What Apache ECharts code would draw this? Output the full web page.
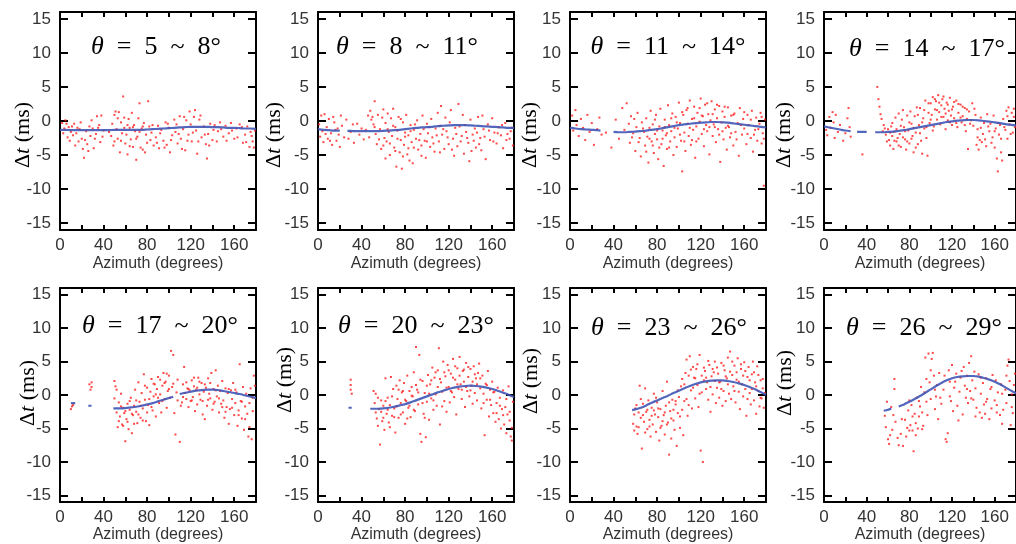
<!DOCTYPE html>
<html>
<head>
<meta charset="utf-8">
<script src="https://cdn.jsdelivr.net/npm/echarts@6/dist/echarts.min.js"></script>
<style>
html,body{margin:0;padding:0;background:#fff;}
#chart{width:1016px;height:544px;}
</style>
</head>
<body>
<div id="chart"></div>
<script>
// ---------------- DATA ----------------
const thetaLo = [5, 8, 11, 14, 17, 20, 23, 26];
const thetaHi = [8, 11, 14, 17, 20, 23, 26, 29];
const xTickLabels = [0, 40, 80, 120, 160];
const yTickLabels = [-15, -10, -5, 0, 5, 10, 15];
const xLabelName = 'Azimuth (degrees)';

const red1 = [[2,-0.3],[4,-1.1],[5,0.1],[7,-2.4],[8,-0.9],[10,-1.6],[12,-2.1],[13,-0.4],[15,-1.8],[17,-3.0],[18,-1.2],[20,-2.6],[21,-4.1],[22,-5.4],[24,-1.5],[25,-3.4],[27,-0.8],[28,-2.2],[30,-1.1],[31,-4.0],[33,-1.9],[34,0.7],[36,-0.6],[37,-3.1],[38,0.8],[40,-1.4],[45,-1.6],[48,-0.4],[49,-3.6],[50,0.9],[51,1.4],[52,-1.2],[53,-2.6],[54,1.3],[55,-4.6],[56,-0.2],[57,-1.8],[58,3.6],[59,0.5],[60,-3.3],[61,-2.0],[62,-4.9],[63,0.3],[64,-1.0],[65,-2.7],[66,1.2],[67,-3.8],[68,-0.6],[69,-1.5],[70,-5.7],[71,-2.3],[72,0.4],[73,2.6],[74,-3.9],[75,-1.1],[76,-4.2],[77,-0.3],[79,-2.0],[80,-3.2],[81,2.9],[82,-0.8],[84,-1.7],[86,-3.6],[88,-2.4],[90,-0.7],[91,-4.0],[93,-1.3],[95,-2.9],[97,-0.2],[98,-3.5],[100,-1.0],[101,-4.6],[103,-2.1],[105,0.2],[106,-1.6],[108,-3.3],[110,0.7],[111,-2.6],[113,-1.2],[115,-4.3],[116,0.1],[118,-2.0],[119,1.4],[120,-0.5],[121,-3.0],[123,0.6],[124,1.6],[125,-1.4],[126,-4.8],[128,0.2],[130,-2.4],[132,-0.8],[134,-3.4],[135,-5.5],[136,-1.9],[138,-0.4],[140,-2.8],[142,-0.6],[145,-1.5],[147,-0.2],[150,-2.3],[152,-0.7],[155,-1.8],[157,-0.3],[160,-2.6],[162,-1.1],[165,-0.5],[168,-3.2],[170,-2.0],[172,-0.8],[174,-3.8],[176,-2.2],[178,-3.9],[179,-1.4]];
const red1b = [[3,-1.8],[6,-0.4],[9,-2.9],[11,-0.8],[14,-3.6],[16,-1.0],[19,-0.2],[23,-2.8],[26,-4.4],[29,0.1],[32,-2.6],[35,-1.0],[39,-2.3],[47,-2.2],[50,-3.0],[53,0.4],[56,-2.9],[59,-1.0],[62,-0.6],[64,-3.7],[67,-0.9],[70,-2.6],[73,-1.6],[76,-0.8],[78,-4.6],[83,-2.8],[85,-0.6],[89,-3.2],[92,-1.8],[96,-3.9],[99,-0.4],[102,-2.8],[107,-0.5],[109,-1.9],[112,-4.1],[114,0.6],[117,-2.9],[122,-1.7],[127,-3.0],[129,0.8],[133,-2.0],[137,-3.6],[141,-1.3],[144,-3.0],[148,-1.2],[153,-2.9],[158,-1.4],[163,-2.4],[167,-0.9],[171,-3.1],[175,-1.6],[177,-3.0]];

const red2 = [[1,-0.5],[2,-2.3],[3,0.8],[4,-1.5],[5,-3.1],[6,1.0],[8,-0.9],[9,-2.6],[10,0.3],[12,-1.8],[13,-3.5],[15,-0.2],[17,-2.9],[18,-1.1],[20,-3.8],[22,-0.7],[24,-2.4],[26,0.2],[30,-1.6],[33,-3.2],[36,-0.4],[38,-2.0],[42,-2.7],[44,-1.3],[46,0.8],[48,1.5],[50,0.6],[51,-0.5],[52,2.9],[53,-1.9],[54,-3.4],[55,0.9],[57,-1.2],[58,-4.1],[60,1.7],[61,-2.5],[62,-0.3],[63,-3.0],[64,1.1],[65,-1.6],[66,-5.0],[67,0.4],[68,-2.2],[69,1.8],[70,-3.9],[71,-0.9],[72,-6.7],[73,-1.4],[74,0.6],[75,-4.6],[76,-2.8],[77,-7.0],[78,-0.2],[79,-3.5],[80,-1.7],[81,0.9],[82,-4.9],[83,-2.1],[84,-5.8],[85,-0.6],[86,-3.1],[87,-6.2],[88,-1.3],[90,-2.6],[91,0.1],[92,-4.2],[94,-1.9],[95,-3.6],[96,0.8],[98,-2.9],[99,-5.4],[100,-0.4],[101,-1.8],[103,-3.8],[104,0.3],[105,-2.4],[107,-4.5],[108,-1.1],[110,1.2],[111,-3.0],[112,-0.7],[113,2.2],[114,-2.0],[116,-4.1],[117,0.5],[118,-1.5],[120,-3.4],[121,-0.2],[122,1.6],[124,-2.6],[125,-5.1],[126,-1.0],[128,-3.7],[129,2.5],[130,-0.8],[132,-2.2],[133,0.9],[134,-4.8],[136,-1.6],[138,-3.2],[139,-5.9],[140,0.2],[142,-2.0],[144,-1.1],[145,-3.9],[147,0.6],[149,-2.5],[150,-4.3],[152,-1.2],[154,-5.6],[156,-0.5],[158,-2.8],[160,0.4],[162,-1.7],[164,-3.3],[166,-0.9],[168,-2.1],[170,-4.0],[172,-0.3],[174,-1.9],[176,-2.6],[178,-1.0],[179,-3.6]];
const red2b = [[7,-1.9],[11,-2.9],[14,0.6],[16,-1.3],[19,-2.0],[21,0.8],[28,-2.6],[32,-0.5],[40,-1.1],[47,-2.4],[49,0.2],[52,-0.9],[56,-2.7],[59,0.5],[60,-3.6],[62,-5.5],[64,-1.2],[66,-3.3],[69,-0.7],[71,-4.4],[73,-2.6],[76,0.3],[78,-5.2],[80,-2.3],[83,-4.0],[85,-1.5],[88,-3.9],[89,-0.5],[93,-2.8],[95,-5.1],[97,-1.2],[100,-3.0],[102,-0.9],[106,-3.3],[109,-2.1],[112,-4.6],[115,-1.2],[119,-2.4],[123,-4.2],[127,-1.9],[131,-3.0],[135,-0.6],[137,-2.5],[141,-4.4],[143,-2.9],[146,-1.7],[148,-3.4],[151,0.8],[153,-2.3],[157,-1.4],[161,-3.0],[165,-1.8],[169,-0.6],[173,-2.8],[177,-1.5]];

const red3 = [[2,0.8],[3,-1.4],[5,1.6],[6,-0.6],[8,-2.2],[10,0.3],[12,-1.0],[14,-2.8],[16,0.9],[18,-1.6],[20,-0.3],[22,-3.5],[25,-1.2],[27,0.5],[29,-2.0],[33,-1.7],[38,-3.9],[42,0.2],[45,-2.6],[48,1.9],[50,-1.3],[52,2.6],[54,-0.4],[55,-3.2],[56,0.7],[58,-1.8],[60,-4.4],[61,-0.9],[62,1.2],[64,-2.5],[65,-5.2],[66,-0.2],[68,-1.6],[69,-3.6],[70,0.4],[71,-2.3],[72,-6.1],[73,-1.0],[74,1.5],[75,-3.0],[76,-0.5],[77,-4.7],[78,-1.9],[79,0.9],[80,-2.7],[81,-5.6],[82,-0.8],[83,1.8],[84,-3.4],[85,-1.4],[86,-6.6],[87,0.2],[88,-2.1],[89,-4.1],[90,2.3],[91,-0.6],[92,-3.0],[93,-1.5],[94,1.1],[95,-5.0],[96,-2.4],[97,0.6],[98,-3.8],[99,-1.1],[100,2.7],[101,-0.3],[102,-2.9],[103,-7.4],[104,0.9],[105,-1.7],[106,-4.4],[107,1.6],[108,-0.4],[109,-2.2],[110,3.0],[111,-3.5],[112,0.3],[113,-1.3],[114,2.1],[115,-5.4],[116,-0.8],[117,1.2],[118,-2.6],[119,-0.1],[120,3.3],[121,-1.9],[122,0.7],[123,-3.7],[124,2.4],[125,-0.6],[126,-1.5],[127,1.0],[128,-4.9],[129,0.1],[130,2.9],[131,-2.2],[132,-0.5],[133,1.7],[134,-3.1],[135,0.4],[136,-1.2],[137,2.2],[138,-6.0],[139,-0.2],[140,1.4],[141,-2.7],[142,0.6],[143,-1.0],[144,-4.2],[145,2.0],[146,-0.9],[147,-2.4],[148,0.8],[150,-3.6],[151,1.1],[152,-1.6],[154,-0.3],[155,-5.1],[156,1.9],[158,-2.0],[159,0.3],[160,-1.1],[162,-3.4],[163,0.9],[164,-0.6],[166,-2.5],[167,1.5],[168,-4.5],[170,-1.3],[171,0.5],[172,-2.9],[174,-0.4],[175,1.2],[176,-3.3],[177,-1.8],[178,-9.5],[179,0.2]];
const red3b = [[57,-2.4],[59,0.3],[63,-3.1],[67,-1.1],[70,-4.5],[73,-2.6],[76,-3.6],[78,0.2],[80,-1.4],[82,-3.9],[85,-2.6],[87,-0.9],[89,-1.8],[91,-3.9],[93,0.4],[96,-1.0],[98,-0.2],[101,-2.0],[103,1.3],[105,-3.0],[108,1.9],[110,-1.0],[112,-2.8],[114,0.4],[116,-3.0],[119,1.9],[121,0.8],[123,-1.2],[126,2.6],[128,-0.9],[131,1.0],[133,-0.9],[135,2.4],[137,-2.0],[140,-1.5],[142,2.1],[145,-0.7],[148,-1.8],[150,0.9],[153,-2.7],[157,-0.6],[160,1.3],[163,-1.9],[166,0.2],[169,-2.0],[173,-1.2],[176,0.6],[178,-2.6]];

const red4 = [[2,-1.3],[3,-2.1],[5,0.6],[6,-1.0],[8,1.3],[9,-0.2],[10,-2.5],[11,0.9],[13,-1.6],[15,-0.6],[18,-2.9],[20,-1.8],[22,0.4],[23,1.9],[24,-0.9],[25,-2.3],[36,-4.9],[50,5.0],[51,3.2],[52,2.1],[53,1.0],[54,0.3],[55,-1.5],[56,-0.6],[58,-2.0],[60,-1.2],[61,-2.8],[62,-3.6],[63,-0.8],[64,-2.2],[65,-4.1],[66,-1.6],[67,0.5],[68,-3.0],[69,-2.5],[70,1.1],[71,-1.9],[72,-3.8],[73,0.2],[74,1.6],[75,-0.9],[76,-2.7],[77,-4.2],[78,0.8],[79,-1.4],[80,-3.3],[81,1.4],[82,-0.4],[83,-2.2],[84,-4.6],[85,0.7],[86,-1.7],[87,2.0],[88,-3.4],[89,-0.6],[90,1.9],[91,-2.9],[92,-4.8],[93,0.4],[94,-1.1],[95,3.0],[96,-2.5],[97,-5.1],[98,1.2],[99,-0.3],[100,2.6],[101,0.9],[102,3.5],[103,-0.8],[104,1.7],[105,2.9],[106,0.2],[107,3.8],[108,1.3],[109,-0.5],[110,2.3],[111,3.2],[112,0.6],[113,1.8],[114,-1.2],[115,2.7],[116,0.1],[117,1.5],[118,3.4],[119,0.8],[120,-0.6],[121,2.1],[122,0.4],[124,3.0],[125,-0.9],[126,1.2],[128,2.4],[129,-0.2],[130,0.7],[132,1.9],[133,-1.5],[134,0.3],[135,-4.1],[136,1.4],[138,0.1],[139,2.6],[140,-0.7],[142,0.9],[143,-3.5],[144,-1.2],[145,-4.2],[146,-2.8],[147,0.5],[148,-3.1],[149,-1.9],[150,-0.3],[152,-3.7],[153,1.0],[155,-1.5],[156,-0.4],[158,-2.4],[159,0.8],[160,-3.9],[161,-1.1],[162,-5.5],[163,-7.4],[164,-2.0],[165,-0.6],[166,-4.6],[167,-5.8],[168,0.3],[170,-1.3],[171,1.5],[172,-2.6],[173,2.0],[174,-0.5],[176,1.2],[177,-1.7],[178,0.6],[179,-0.9]];
const red4b = [[57,-1.1],[59,-3.0],[62,-1.7],[64,-0.3],[66,-2.9],[68,-1.2],[70,-3.6],[72,-0.7],[74,-2.4],[76,-1.5],[78,-3.0],[80,-0.2],[82,-2.6],[84,-1.0],[86,-3.9],[88,0.9],[90,-1.8],[92,-0.2],[94,1.6],[96,-0.9],[98,2.6],[100,0.2],[102,-1.4],[104,3.2],[106,1.6],[108,2.7],[110,0.6],[112,3.6],[114,1.1],[116,2.4],[118,-0.2],[120,1.7],[122,2.8],[124,-0.3],[126,2.5],[128,0.5],[130,2.1],[132,-0.6],[134,1.7],[137,-0.4],[141,1.8],[144,-2.4],[147,-1.0],[151,-2.7],[154,-0.8],[157,-3.2],[160,-1.5],[163,-0.3],[166,-2.6],[169,-0.9],[172,0.7],[175,-1.9],[178,1.8]];

const red5 = [[10,-2.1],[11,-1.7],[12,-1.5],[27,1.6],[28,0.8],[29,1.2],[29,1.9],[50,2.1],[50,-0.5],[51,1.3],[52,-2.6],[53,-4.8],[54,-1.1],[55,-3.2],[56,0.2],[57,-4.4],[58,-1.9],[59,-2.7],[60,-6.9],[61,-3.6],[62,-1.3],[63,-5.1],[64,-2.2],[65,-0.4],[66,-5.7],[67,-3.0],[68,-1.6],[69,0.8],[70,-2.5],[71,-4.2],[72,1.9],[73,-1.0],[74,-3.4],[75,0.3],[76,-2.0],[77,3.1],[78,-0.7],[79,-3.9],[80,1.1],[81,-1.5],[82,-4.5],[83,0.5],[84,2.4],[85,-2.3],[86,-0.2],[87,1.6],[88,-3.2],[89,0.9],[90,2.7],[91,-1.2],[92,0.1],[93,-2.6],[94,1.4],[95,3.3],[96,-0.6],[97,2.0],[98,-1.9],[99,0.6],[100,2.9],[101,-0.4],[102,6.6],[103,1.2],[104,6.0],[105,-2.7],[106,-5.9],[107,0.4],[108,-0.8],[110,-7.0],[112,-1.1],[113,1.6],[114,4.2],[115,0.3],[116,-0.6],[117,1.0],[118,-1.8],[119,0.7],[120,-0.9],[121,2.2],[122,-0.3],[123,1.3],[124,-2.4],[125,0.8],[126,-1.4],[127,2.6],[128,0.1],[129,-0.7],[130,1.8],[131,-2.9],[132,0.5],[133,-3.6],[134,1.1],[135,-1.6],[136,2.5],[137,0.2],[138,-0.5],[139,3.3],[140,-2.2],[141,0.9],[142,-1.0],[143,3.7],[144,-0.2],[145,1.4],[146,-2.6],[147,0.6],[148,-1.3],[149,2.1],[150,-0.8],[151,-3.4],[152,1.0],[153,-1.8],[154,0.3],[155,-4.3],[156,-2.1],[157,0.7],[158,-0.6],[159,1.8],[160,-3.0],[161,-1.2],[162,0.4],[163,-4.6],[164,-2.3],[165,4.6],[166,-0.9],[167,-3.5],[168,1.2],[169,-5.2],[170,-1.7],[171,0.2],[172,-2.8],[173,-6.2],[174,-4.8],[175,1.0],[176,-6.6],[177,-0.4],[178,2.9],[179,1.4]];
const red5b = [[52,0.8],[54,-3.9],[56,-1.7],[58,-4.6],[60,-2.4],[62,-4.0],[64,-0.9],[66,-2.8],[68,-4.3],[70,-0.8],[72,-2.9],[74,-1.6],[76,-3.8],[78,1.4],[80,-2.6],[82,-0.6],[84,-1.8],[86,1.7],[88,0.1],[90,-0.4],[92,2.3],[94,-0.9],[96,1.8],[98,3.2],[100,0.9],[104,1.7],[108,2.3],[111,-1.6],[113,-0.3],[116,1.9],[118,0.9],[121,-0.8],[123,2.6],[126,1.1],[128,2.0],[131,-0.9],[133,1.6],[136,-0.7],[138,1.8],[141,-1.3],[143,0.7],[146,-0.5],[149,-1.8],[152,-2.5],[155,0.9],[158,-1.9],[161,0.8],[164,-3.0],[167,-1.0],[170,-3.6],[174,-1.2],[177,-2.4]];

const red6 = [[30,2.3],[30,1.5],[30,0.8],[31,0.2],[51,0.6],[52,-1.2],[53,0.2],[54,-3.5],[55,-4.6],[56,-2.1],[57,-7.4],[58,-0.8],[59,-3.9],[60,-1.6],[61,-5.2],[62,2.5],[63,-2.8],[64,-0.4],[65,-4.1],[66,-1.5],[67,2.7],[68,-3.1],[69,0.9],[70,-2.0],[71,-5.6],[72,1.4],[73,-0.6],[74,-3.4],[75,2.2],[76,-1.2],[77,0.4],[78,-2.6],[79,1.8],[80,-4.3],[81,-0.9],[82,2.9],[83,-1.9],[84,0.6],[85,-3.3],[86,1.2],[87,-0.2],[88,3.4],[89,-2.4],[90,7.2],[91,0.8],[92,-1.4],[93,6.0],[94,-5.8],[95,-7.0],[96,2.1],[97,-2.8],[98,0.3],[99,-6.3],[100,-1.0],[101,3.0],[102,-3.7],[103,1.6],[104,-0.5],[105,4.1],[106,-2.2],[107,2.6],[108,0.1],[109,-1.6],[110,3.7],[111,7.0],[112,-4.4],[113,1.9],[114,0.5],[115,5.0],[116,-0.9],[117,2.8],[118,-2.5],[119,4.5],[120,1.2],[121,-1.1],[122,3.2],[123,0.4],[124,5.4],[125,-0.3],[126,2.3],[127,-2.9],[128,4.0],[129,0.9],[130,5.7],[131,1.6],[132,-0.6],[133,3.6],[134,2.0],[135,-1.8],[136,4.8],[137,0.6],[138,2.7],[139,-0.2],[140,3.9],[141,1.4],[142,-1.3],[143,4.3],[144,0.3],[145,2.5],[146,-0.8],[147,3.3],[148,4.7],[149,1.0],[150,-2.0],[151,2.9],[152,0.2],[153,-6.0],[154,1.7],[155,-0.7],[156,3.6],[157,-3.2],[158,0.8],[159,-1.5],[160,2.0],[161,-2.7],[162,0.5],[163,-4.0],[164,-1.2],[165,1.1],[166,-3.6],[167,-0.4],[168,-5.0],[169,-2.1],[170,0.7],[171,-4.4],[172,-1.8],[173,-5.7],[174,-2.9],[175,1.3],[176,-3.8],[177,-6.2],[178,-4.9],[179,-1.0]];
const red6b = [[53,-2.6],[55,-0.4],[58,-2.5],[60,-3.4],[62,-0.9],[64,-2.2],[66,-4.8],[68,-0.2],[70,-3.3],[72,-1.7],[74,0.8],[76,-2.9],[78,0.6],[80,-0.7],[82,-3.5],[84,-1.6],[86,-0.1],[88,-2.2],[90,1.5],[92,0.4],[94,2.3],[96,-1.2],[98,-3.4],[100,1.4],[102,0.2],[104,2.2],[106,-0.8],[108,3.4],[110,1.2],[112,2.4],[114,-1.7],[116,3.4],[118,1.1],[120,3.7],[122,0.6],[124,2.6],[126,4.3],[128,1.6],[130,2.9],[132,0.8],[134,3.8],[136,1.2],[138,4.2],[140,0.7],[142,2.0],[144,3.1],[146,1.6],[149,2.5],[152,-1.2],[155,1.5],[158,-0.7],[161,0.4],[164,-2.7],[167,-1.6],[170,-3.0],[173,-0.6],[176,-2.5],[178,-6.8]];

const red7 = [[58,-4.3],[59,-5.3],[60,-2.0],[61,-4.7],[62,-5.8],[63,-2.6],[64,1.4],[65,-3.4],[66,-8.0],[67,-1.3],[68,-4.0],[69,1.0],[70,-2.5],[71,-5.1],[72,-0.8],[73,-3.7],[74,-6.2],[75,-1.9],[76,-4.4],[77,0.2],[78,-2.9],[79,-5.5],[80,-1.1],[81,-3.3],[82,-6.8],[83,-2.1],[84,-4.6],[85,0.6],[86,-3.0],[87,-5.9],[88,-1.6],[89,2.0],[90,-4.1],[91,-8.9],[92,-2.4],[93,-6.5],[94,-0.7],[95,-3.8],[96,-5.2],[97,-1.4],[98,-7.6],[99,-2.7],[100,-0.3],[101,-4.9],[102,1.3],[103,-2.2],[104,-6.0],[105,-0.9],[106,3.3],[107,5.3],[108,-3.1],[109,-1.5],[110,5.8],[111,0.7],[112,-2.0],[113,4.2],[114,2.6],[115,-0.5],[116,3.9],[117,1.5],[118,-1.8],[119,6.0],[120,-8.3],[121,0.4],[122,-10.0],[123,2.2],[124,3.6],[125,0.9],[126,1.9],[127,-0.7],[128,4.5],[129,-2.5],[130,2.8],[131,0.1],[132,3.4],[133,5.0],[134,-1.2],[135,1.1],[136,3.2],[137,-0.4],[138,2.0],[139,4.8],[140,-1.6],[141,0.6],[142,3.7],[143,-0.9],[144,2.5],[145,5.6],[146,0.2],[147,6.5],[148,-0.6],[149,3.0],[150,1.3],[151,4.4],[152,-1.1],[153,2.3],[154,5.5],[155,0.5],[156,-2.1],[157,3.9],[158,1.6],[159,-0.2],[160,4.9],[161,0.9],[162,-3.1],[163,2.7],[164,4.2],[165,0.3],[166,-1.4],[167,3.1],[168,5.0],[169,-0.8],[170,1.9],[171,-2.8],[172,4.3],[173,0.6],[174,-1.7],[175,2.2],[176,-0.5],[177,1.0],[178,-1.9],[179,0.3]];
const red7b = [[59,-2.9],[61,-1.5],[63,-4.8],[65,-0.6],[67,-3.0],[69,-5.6],[71,-2.2],[73,-4.7],[75,-3.1],[77,-2.3],[79,-0.4],[81,-2.0],[83,-4.9],[85,-3.9],[87,-2.6],[89,-4.4],[91,-1.1],[93,-3.5],[95,-2.2],[97,-0.9],[99,0.7],[101,-3.2],[103,2.4],[105,1.6],[107,-0.6],[109,2.9],[111,3.8],[113,1.1],[115,2.5],[117,4.6],[119,0.2],[121,2.9],[123,4.1],[125,2.6],[127,5.1],[129,1.2],[131,3.9],[133,2.1],[135,4.1],[137,1.9],[139,0.9],[141,4.4],[143,2.8],[145,1.6],[147,3.5],[149,5.0],[151,0.6],[153,3.4],[155,2.0],[157,4.6],[159,2.9],[161,3.6],[163,-0.6],[165,2.2],[167,0.9],[169,3.4],[171,1.3],[173,3.0],[175,-0.4],[177,2.4]];

const red8 = [[57,-3.1],[58,-4.8],[60,-6.6],[61,-7.3],[63,-1.8],[64,-5.2],[66,2.4],[66,0.9],[67,-4.0],[70,-7.5],[72,-5.8],[74,-7.6],[76,-3.7],[78,-4.9],[79,-2.3],[80,-0.8],[81,-4.5],[82,-1.5],[83,-5.3],[84,-8.4],[85,-2.8],[86,-4.2],[87,-0.4],[88,-5.0],[89,-3.2],[90,-1.7],[91,1.2],[92,-2.6],[93,-4.6],[94,0.4],[95,5.6],[96,-1.0],[97,-3.0],[98,6.2],[99,1.9],[100,-0.6],[101,5.4],[102,6.3],[103,2.9],[104,-2.1],[105,-0.2],[106,1.5],[107,-3.6],[108,3.3],[110,-1.3],[112,0.8],[114,-6.6],[115,-7.0],[116,-5.7],[117,3.7],[118,2.0],[119,-0.9],[120,4.5],[121,-2.4],[122,1.1],[124,3.2],[125,-1.6],[126,-3.8],[127,0.5],[128,2.6],[130,-2.9],[131,4.2],[132,1.4],[133,-0.4],[134,2.9],[135,-1.2],[136,4.8],[137,0.6],[138,5.8],[139,2.2],[140,-0.7],[141,3.5],[142,1.0],[143,-1.9],[145,3.1],[146,-2.6],[147,0.2],[148,-3.4],[149,1.8],[150,-1.4],[151,-2.8],[152,2.5],[153,-0.6],[155,-3.6],[156,0.9],[157,-2.0],[158,3.0],[160,-0.8],[161,2.2],[162,-1.5],[163,0.4],[165,-3.0],[166,1.6],[167,-4.3],[168,-2.2],[170,0.8],[171,-1.2],[172,4.4],[173,5.3],[174,2.1],[175,-4.5],[176,0.1],[177,-2.7],[178,1.5],[179,3.2]];
const red8b = [[59,-1.0],[62,-6.0],[65,-3.0],[69,-6.4],[73,-3.6],[77,-6.2],[80,-5.3],[83,-3.2],[86,-6.0],[89,-0.9],[92,-5.1],[96,2.4],[100,3.7],[104,0.8],[109,-0.4],[113,2.9],[118,-0.2],[123,2.0],[129,3.6],[134,0.9],[138,-0.5],[142,-3.2],[147,2.6],[152,-1.0],[157,1.2],[162,-2.6],[167,0.2],[171,2.9],[176,-1.8]];

// blue fitted curves ('-' marks a gap)
const blue1 = [[0,-1.3],[5,-1.3],[10,-1.35],[15,-1.35],[20,-1.35],[25,-1.35],[30,-1.35],[35,-1.35],[40,-1.35],[45,-1.35],[50,-1.3],[55,-1.3],[60,-1.3],[65,-1.3],[70,-1.3],[75,-1.3],[80,-1.25],[85,-1.2],[90,-1.15],[95,-1.1],[100,-1.05],[105,-1.0],[110,-0.95],[115,-0.9],[120,-0.85],[125,-0.85],[130,-0.85],[135,-0.85],[140,-0.9],[145,-0.9],[150,-0.95],[155,-1.0],[160,-1.0],[165,-1.05],[170,-1.1],[175,-1.1],[180,-1.15]];
const blue2 = [[0,-1.2],[5,-1.3],[10,-1.35],[15,-1.4],[20,-1.4],[23,'-'],[27,-1.45],[30,-1.45],[35,-1.5],[40,-1.5],[45,-1.5],[50,-1.5],[55,-1.5],[60,-1.45],[65,-1.4],[70,-1.35],[75,-1.3],[80,-1.2],[85,-1.1],[90,-1.0],[95,-0.95],[100,-0.9],[105,-0.85],[110,-0.75],[115,-0.7],[120,-0.65],[125,-0.6],[130,-0.6],[135,-0.6],[140,-0.65],[145,-0.7],[150,-0.75],[155,-0.8],[160,-0.85],[165,-0.9],[170,-0.95],[175,-1.0],[180,-1.0]];
const blue3 = [[0,-1.0],[5,-1.1],[10,-1.2],[15,-1.25],[20,-1.3],[25,-1.35],[28,-1.4],[34,'-'],[40,-1.6],[45,-1.65],[50,-1.65],[55,-1.6],[60,-1.55],[65,-1.5],[70,-1.4],[75,-1.3],[80,-1.2],[85,-1.05],[90,-0.9],[95,-0.75],[100,-0.6],[105,-0.5],[110,-0.4],[115,-0.3],[120,-0.25],[125,-0.2],[130,-0.15],[135,-0.15],[140,-0.2],[145,-0.25],[150,-0.35],[155,-0.45],[160,-0.55],[165,-0.65],[170,-0.75],[175,-0.85],[180,-0.95]];
const blue4 = [[0,-0.8],[5,-0.95],[10,-1.1],[15,-1.25],[20,-1.4],[25,-1.5],[28,'-'],[31,-1.6],[35,-1.6],[40,-1.6],[44,'-'],[48,-1.65],[50,-1.65],[55,-1.65],[60,-1.6],[65,-1.55],[70,-1.45],[75,-1.35],[80,-1.2],[85,-1.05],[90,-0.9],[95,-0.75],[100,-0.6],[105,-0.45],[110,-0.3],[115,-0.15],[120,-0.05],[125,0.05],[130,0.1],[135,0.15],[140,0.15],[145,0.1],[150,0.0],[155,-0.1],[160,-0.2],[165,-0.3],[170,-0.45],[175,-0.55],[180,-0.65]];
const blue5 = [[10,-1.2],[14,-1.2],[20,'-'],[26,-1.6],[29,-1.6],[40,'-'],[49,-2.0],[55,-2.0],[60,-1.95],[65,-1.85],[70,-1.75],[75,-1.6],[80,-1.4],[85,-1.2],[90,-0.95],[95,-0.7],[100,-0.45],[104,-0.25],[107,'-'],[110,0.15],[115,0.35],[120,0.5],[125,0.65],[130,0.75],[135,0.8],[140,0.8],[145,0.75],[150,0.6],[155,0.45],[160,0.3],[165,0.15],[170,-0.05],[175,-0.25],[180,-0.45]];
const blue6 = [[28,-1.9],[31,-1.9],[40,'-'],[48,-2.05],[55,-2.05],[60,-2.0],[65,-1.9],[70,-1.75],[75,-1.55],[80,-1.35],[85,-1.1],[90,-0.8],[95,-0.5],[100,-0.2],[105,0.1],[110,0.4],[115,0.65],[120,0.9],[125,1.1],[130,1.25],[135,1.35],[140,1.4],[145,1.35],[150,1.25],[155,1.1],[160,0.9],[165,0.65],[170,0.35],[175,0.05],[180,-0.3]];
const blue7 = [[57,-2.25],[60,-2.15],[65,-1.9],[70,-1.55],[75,-1.15],[80,-0.8],[85,-0.45],[90,-0.1],[95,0.3],[100,0.65],[105,1.0],[110,1.35],[115,1.65],[120,1.9],[125,2.05],[130,2.15],[135,2.2],[140,2.2],[145,2.1],[150,1.95],[155,1.75],[160,1.5],[165,1.2],[170,0.85],[175,0.45],[180,0.05]];
const blue8 = [[56,-2.35],[60,-2.2],[63,-2.0],[67,'-'],[70,-1.7],[75,-1.4],[80,-1.0],[85,-0.6],[90,-0.15],[95,0.35],[100,0.85],[105,1.35],[110,1.8],[115,2.2],[120,2.5],[125,2.7],[130,2.8],[135,2.85],[140,2.85],[145,2.75],[150,2.55],[155,2.3],[160,2.0],[165,1.6],[170,1.15],[175,0.7],[180,0.25]];

const redSets = [red1.concat(red1b), red2.concat(red2b), red3.concat(red3b), red4.concat(red4b),
                 red5.concat(red5b), red6.concat(red6b), red7.concat(red7b), red8.concat(red8b)];
const blueSets = [blue1, blue2, blue3, blue4, blue5, blue6, blue7, blue8];

// ---------------- LAYOUT ----------------
const colLeft = [60, 318, 570, 824];
const rowTop = [12, 288];
const rowHeight = [218, 216];
const panelWidth = 196;
const titlePos = [[156,47],[407,47],[668,47],[927,49],[160,326],[416,326],[669,328],[924,328]];
const yNamePos = [[23,135],[274,135],[530,135],[784,135],[28,393],[285,380],[531,381],[785,383]];

const SANS = '"Liberation Sans", Arial, sans-serif';
const SERIF = '"Liberation Serif", "Times New Roman", "DejaVu Serif", serif';

const grids = [], xAxes = [], yAxes = [], series = [], graphics = [];
for (let i = 0; i < 8; i++) {
  const r = Math.floor(i / 4), c = i % 4;
  grids.push({left: colLeft[c], top: rowTop[r], width: panelWidth, height: rowHeight[r], containLabel: false});
  const lineSt = {show: true, onZero: false, lineStyle: {color: '#000', width: 2}};
  const xTick = {show: true, inside: true, length: 5, lineStyle: {color: '#000', width: 2}};
  const yTick = {show: true, inside: true, length: 8, customValues: yTickLabels, lineStyle: {color: '#000', width: 2}};
  xAxes.push({
    gridIndex: i, type: 'value', min: 0, max: 180, interval: 20, position: 'bottom',
    axisLine: lineSt, axisTick: xTick, splitLine: {show: false},
    axisLabel: {show: true, customValues: xTickLabels, margin: 7, color: '#333', fontFamily: SANS, fontSize: 17},
    name: xLabelName, nameLocation: 'middle', nameGap: r === 0 ? 26 : 23,
    nameTextStyle: {color: '#333', fontFamily: SANS, fontSize: 16}
  });
  xAxes.push({
    gridIndex: i, type: 'value', min: 0, max: 180, interval: 20, position: 'top',
    axisLine: lineSt, axisTick: xTick, splitLine: {show: false}, axisLabel: {show: false}
  });
  yAxes.push({
    gridIndex: i, type: 'value', min: -16, max: 16, position: 'left',
    axisLine: lineSt, axisTick: yTick, splitLine: {show: false},
    axisLabel: {show: true, customValues: yTickLabels, margin: 9, color: '#333', fontFamily: SANS, fontSize: 17}
  });
  yAxes.push({
    gridIndex: i, type: 'value', min: -16, max: 16, position: 'right',
    axisLine: lineSt, axisTick: yTick, splitLine: {show: false}, axisLabel: {show: false}
  });
  series.push({
    type: 'scatter', xAxisIndex: 2 * i, yAxisIndex: 2 * i, data: redSets[i],
    symbol: 'rect', symbolSize: 2, itemStyle: {color: '#ff1a1a', opacity: 0.8}, silent: true
  });
  series.push({
    type: 'line', xAxisIndex: 2 * i, yAxisIndex: 2 * i, data: blueSets[i],
    showSymbol: false, smooth: 0.3, connectNulls: false,
    lineStyle: {color: '#3f55b5', width: 2.2, opacity: 0.9}, silent: true
  });
  graphics.push({
    type: 'text', x: titlePos[i][0], y: titlePos[i][1], silent: true,
    style: {
      text: '{t|θ}{n|\u2002=\u2002' + thetaLo[i] + '\u2002~\u2002' + thetaHi[i] + '°}',
      align: 'center', verticalAlign: 'middle', fill: '#000',
      fontFamily: SERIF, fontSize: 26,
      rich: {
        t: {fontStyle: 'italic', fontFamily: SERIF, fontSize: 26, fill: '#000'},
        n: {fontFamily: SERIF, fontSize: 26, fill: '#000'}
      }
    }
  });
  graphics.push({
    type: 'text', x: yNamePos[i][0], y: yNamePos[i][1], rotation: Math.PI / 2, silent: true,
    style: {
      text: '{n|Δ}{t|t}{n| (ms)}',
      align: 'center', verticalAlign: 'middle', fill: '#000',
      fontFamily: SERIF, fontSize: 22,
      rich: {
        t: {fontStyle: 'italic', fontFamily: SERIF, fontSize: 22, fill: '#000'},
        n: {fontFamily: SERIF, fontSize: 22, fill: '#000'}
      }
    }
  });
}

const chart = echarts.init(document.getElementById('chart'), null, {renderer: 'canvas'});
chart.setOption({
  animation: false,
  backgroundColor: '#fff',
  grid: grids,
  xAxis: xAxes,
  yAxis: yAxes,
  series: series,
  graphic: graphics
});
</script>
</body>
</html>
